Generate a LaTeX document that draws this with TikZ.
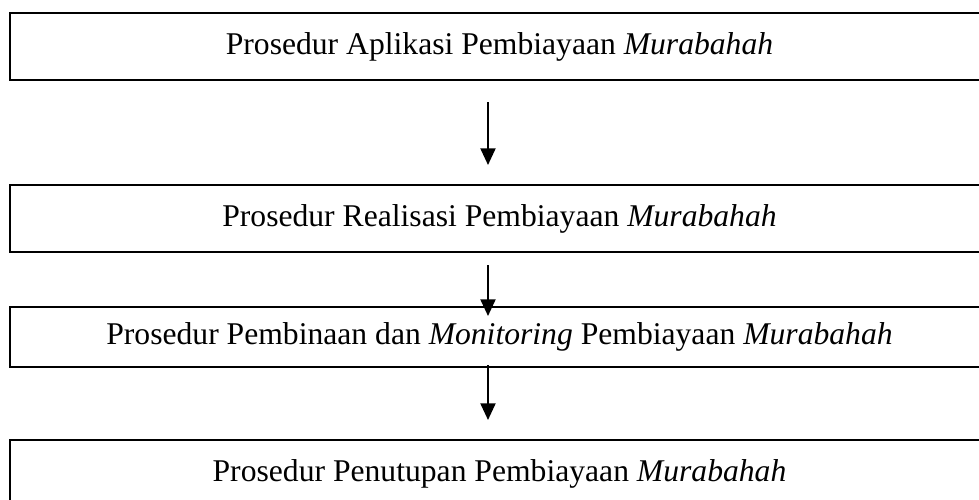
\documentclass[tikz,border=0pt]{standalone}
\usepackage{fontspec}
\setmainfont{Liberation Serif}
\usetikzlibrary{arrows.meta}
\tikzset{
	prosedur/.style={draw, line width=0.06cm, minimum width=29.37cm, minimum height=2.01cm, inner sep=0pt, font=\fontsize{27}{32}\selectfont},
	panah/.style={line width=0.06cm, -{Triangle[length=0.5cm,width=0.45cm]}}
}
\begin{document}
\begin{tikzpicture}[x=0.03cm,y=-0.03cm]
	\clip (0,0) rectangle (979,499);
	%Box coordinate
	\coordinate (aplikasi) at (499.5,46.5) ;
	\coordinate (realisasi) at (499.5,218.5) ;
	\coordinate (pembinaan) at (499.5,337) ;
	\coordinate (penutupan) at (499.5,473.5) ;

	%Boxes
	\node[prosedur] (box1) at (aplikasi) {Prosedur Aplikasi Pembiayaan \textit{Murabahah}};
	\node[prosedur] (box2) at (realisasi) {Prosedur Realisasi Pembiayaan \textit{Murabahah}};
	\node[prosedur, minimum height=1.8cm] (box3) at (pembinaan) {Prosedur Pembinaan dan \textit{Monitoring} Pembiayaan \textit{Murabahah}};
	\node[prosedur] (box4) at (penutupan) {Prosedur Penutupan Pembiayaan \textit{Murabahah}};

	%Arrow coordinate
	\coordinate (top1) at (488,102) ;
	\coordinate (tip1) at (488,165) ;
	\coordinate (top2) at (488,265) ;
	\coordinate (tip2) at (488,316) ;
	\coordinate (top3) at (488,365) ;
	\coordinate (tip3) at (488,420) ;

	%Arrows
	\draw[panah] (top1)--(tip1);%aplikasi
	\draw[panah] (top2)--(tip2);%realisasi
	\draw[panah] (top3)--(tip3);%pembinaan
\end{tikzpicture}
\end{document}
